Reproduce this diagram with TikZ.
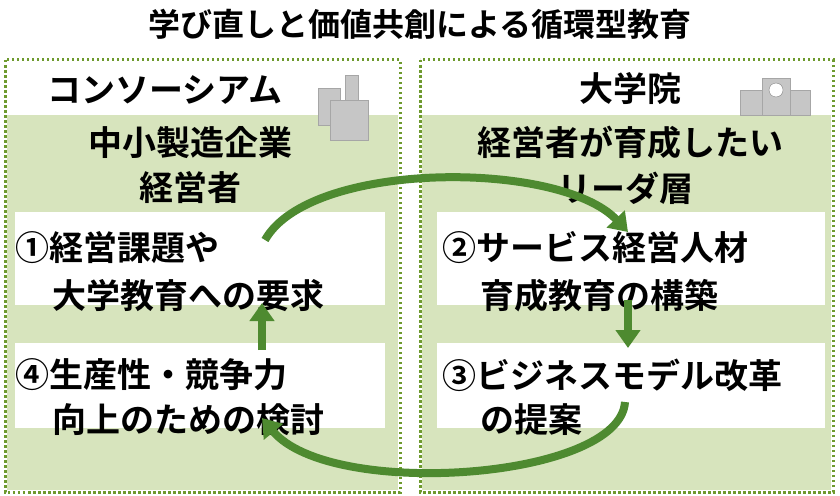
\documentclass[tikz,border=0pt]{standalone}
\usepackage{fontspec}
\setmainfont{Noto Sans CJK JP}[BoldFont={Noto Sans CJK JP Bold}]
\usetikzlibrary{arrows.meta}
\definecolor{paleleaf}{HTML}{D7E4BD}
\definecolor{leaf}{HTML}{4E8A30}
\definecolor{dotleaf}{HTML}{6E9A2E}
\tikzset{
  panel/.style={draw=dotleaf,line width=3pt,dash pattern=on 2.5pt off 2.5pt},
  card/.style={fill=white,draw=none},
  label/.style={font=\bfseries\fontsize{34}{38}\selectfont,inner sep=0pt},
  title/.style={font=\bfseries\fontsize{32}{36}\selectfont,inner sep=0pt},
  flow/.style={draw=leaf,line width=8pt,-{Triangle[length=18pt,width=24pt]}},
  bldg/.style={fill=gray!45,draw=gray!70,line width=0.5pt}
}
\begin{document}
\begin{tikzpicture}[x=1pt,y=-1pt]
    \useasboundingbox (0,0) rectangle (840,495);
    %title
    \node[title] (title) at (420,24) {学び直しと価値共創による循環型教育};

    %panels
    \fill[paleleaf] (7,115) rectangle (398,490);
    \fill[paleleaf] (422,115) rectangle (831,490);
    \draw[panel] (5,60) rectangle (400,492);
    \draw[panel] (420,60) rectangle (833,492);

    %icons
    \draw[bldg] (318,88) rectangle (340,125);
    \draw[bldg] (330,100) rectangle (368,140);
    \draw[bldg] (345,75) rectangle (358,100);
    \draw[bldg] (740,90) rectangle (810,115);
    \draw[bldg] (762,78) rectangle (790,115);
    \draw[fill=white,draw=gray] (776,90) circle (7);

    %headers
    \node[label] (cons) at (165,90) {コンソーシアム};
    \node[label] (univ) at (630,88) {大学院};
    \node[label] (smeA) at (190,143) {中小製造企業};
    \node[label] (smeB) at (190,188) {経営者};
    \node[label] (leadA) at (630,143) {経営者が育成したい};
    \node[label] (leadB) at (625,188) {リーダ層};

    %cards
    \fill[card] (15,212) rectangle (385,305);
    \fill[card] (15,343) rectangle (385,428);
    \fill[card] (437,212) rectangle (825,305);
    \fill[card] (437,343) rectangle (825,428);
    \node[label,anchor=west] (s1a) at (15,248) {①経営課題や};
    \node[label,anchor=west] (s1b) at (52,296) {大学教育への要求};
    \node[label,anchor=west] (s4a) at (15,375) {④生産性・競争力};
    \node[label,anchor=west] (s4b) at (52,420) {向上のための検討};
    \node[label,anchor=west] (s2a) at (442,248) {②サービス経営人材};
    \node[label,anchor=west] (s2b) at (480,296) {育成教育の構築};
    \node[label,anchor=west] (s3a) at (442,375) {③ビジネスモデル改革};
    \node[label,anchor=west] (s3b) at (480,420) {の提案};

    %cycle
    \coordinate (p1) at (265,240);
    \coordinate (p2) at (628,232);
    \coordinate (p3) at (628,300);
    \coordinate (p3b) at (628,348);
    \coordinate (p4) at (625,402);
    \coordinate (p5) at (262,418);
    \coordinate (p6) at (262,350);
    \coordinate (p6b) at (262,303);
    \draw[flow] (p1) .. controls (310,160) and (560,160) .. (p2);
    \draw[flow] (p3) -- (p3b);
    \draw[flow] (p4) .. controls (620,480) and (330,500) .. (p5);
    \draw[flow] (p6) -- (p6b);
\end{tikzpicture}
\end{document}
